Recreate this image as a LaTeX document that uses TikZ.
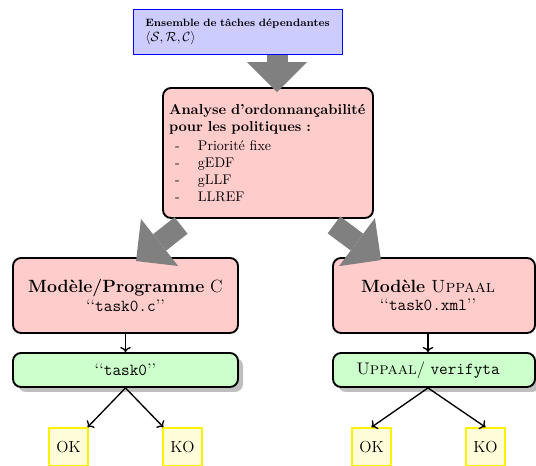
\documentclass[tikz,border=0pt]{standalone}
\usepackage{fontspec}
\usepackage{amsmath}
\usetikzlibrary{arrows.meta, positioning, shadows, calc}

\newcommand{\polit}[1]{\makebox[21.75pt][l]{\hspace*{4.5pt}-}#1}

\begin{document}
\begin{tikzpicture}[
  x=0.75pt, y=-0.75pt,
  entree/.style={rectangle, draw=blue, line width=1.4pt, fill=blue!20,
    minimum width=156.75pt, minimum height=33.75pt,
    text width=139pt, inner xsep=8.75pt, align=left, font=\footnotesize},
  analyse/.style={rectangle, rounded corners=6pt, draw=black, line width=1.4pt,
    fill=red!20, minimum width=157.5pt, minimum height=97.5pt,
    text width=148.5pt, inner xsep=4.5pt, align=left,
    font=\fontsize{10.8}{12.75}\selectfont},
  modele/.style={rectangle, rounded corners=6pt, draw=black, line width=1.4pt,
    fill=red!20, minimum height=56.25pt, align=center,
    font=\fontsize{12.6}{12.75}\selectfont},
  outil/.style={rectangle, rounded corners=6pt, draw=black, line width=1.4pt,
    fill=green!20, minimum height=25.5pt, align=center,
    font=\fontsize{12.6}{14}\selectfont,
    drop shadow={shadow xshift=3.75pt, shadow yshift=-3.75pt,
      fill=black!25, opacity=1}},
  verdict/.style={rectangle, draw=yellow, line width=1.2pt, fill=yellow!15,
    minimum width=29.25pt, minimum height=28.5pt, font=\large},
  bigarr/.style={draw=gray, line width=15.75pt,
    -{Triangle[width=45pt, length=22.5pt, line width=0pt]}},
  arr/.style={->, line width=1pt}
]
  \useasboundingbox (0,0) rectangle (536,466);

  \node[entree] (ens) at (238,32)
    {\textbf{Ensemble de tâches dépendantes}\\[2pt]
     {\fontsize{9.6}{11}\selectfont
      $\langle\mathcal{S},\mathcal{R},\mathcal{C}\rangle$}};
  \node[analyse] (ana) at (268,153)
    {\textbf{Analyse d'ordonnançabilité}\\
     \textbf{pour les politiques :}\\[1pt]
     {\fontsize{10.5}{12.75}\selectfont\polit{Priorité fixe}\\
     \polit{gEDF}\\
     \polit{gLLF}\\
     \polit{LLREF}}};

  \node[modele, minimum width=168.75pt] (modC) at (125.5,295.5)
    {{\fontsize{13.3}{16}\selectfont\textbf{Modèle/Programme} C}\\[1pt]
     ‘‘\texttt{task0.c}’’};
  \node[modele, minimum width=151.5pt] (modU) at (434,295.5)
    {{\fontsize{13.3}{16}\selectfont\textbf{Modèle} \textsc{Uppaal}}%
     \hspace*{9pt}\\[1pt]
     ‘‘\texttt{task0.xml}’’\hspace*{9pt}};

  \node[outil, minimum width=168.75pt] (exeC) at (125.5,370)
    {‘‘\texttt{task0}’’};
  \node[outil, minimum width=151.5pt] (exeU) at (434,370)
    {\textsc{Uppaal}/ \texttt{verifyta}\hspace*{9pt}};

  \node[verdict] (okC) at (68.5,447) {OK};
  \node[verdict] (koC) at (182.5,447) {KO};
  \node[verdict] (okU) at (371.5,447) {OK};
  \node[verdict] (koU) at (485.5,447) {KO};

  \draw[bigarr] ([xshift=29.25pt]ens.south)
    -- ([xshift=6.75pt, yshift=-3.75pt]ana.north);
  \draw[bigarr] ([xshift=14.25pt, yshift=-4.9pt]ana.south west)
    -- ([xshift=7.9pt, yshift=-3pt]modC.north);
  \draw[bigarr] ([xshift=-30pt, yshift=-4.5pt]ana.south east)
    -- ([xshift=-39.75pt, yshift=-2.25pt]modU.north);

  \draw[arr] (modC) -- (exeC);
  \draw[arr] ([xshift=-4.5pt]modU.south) -- ([xshift=-4.5pt]exeU.north);
  \draw[arr] (exeC.south) -- (okC);
  \draw[arr] (exeC.south) -- (koC);
  \draw[arr] ([xshift=-4.5pt]exeU.south) -- (okU.north);
  \draw[arr] ([xshift=-4.5pt]exeU.south) -- (koU.north);
\end{tikzpicture}
\end{document}
